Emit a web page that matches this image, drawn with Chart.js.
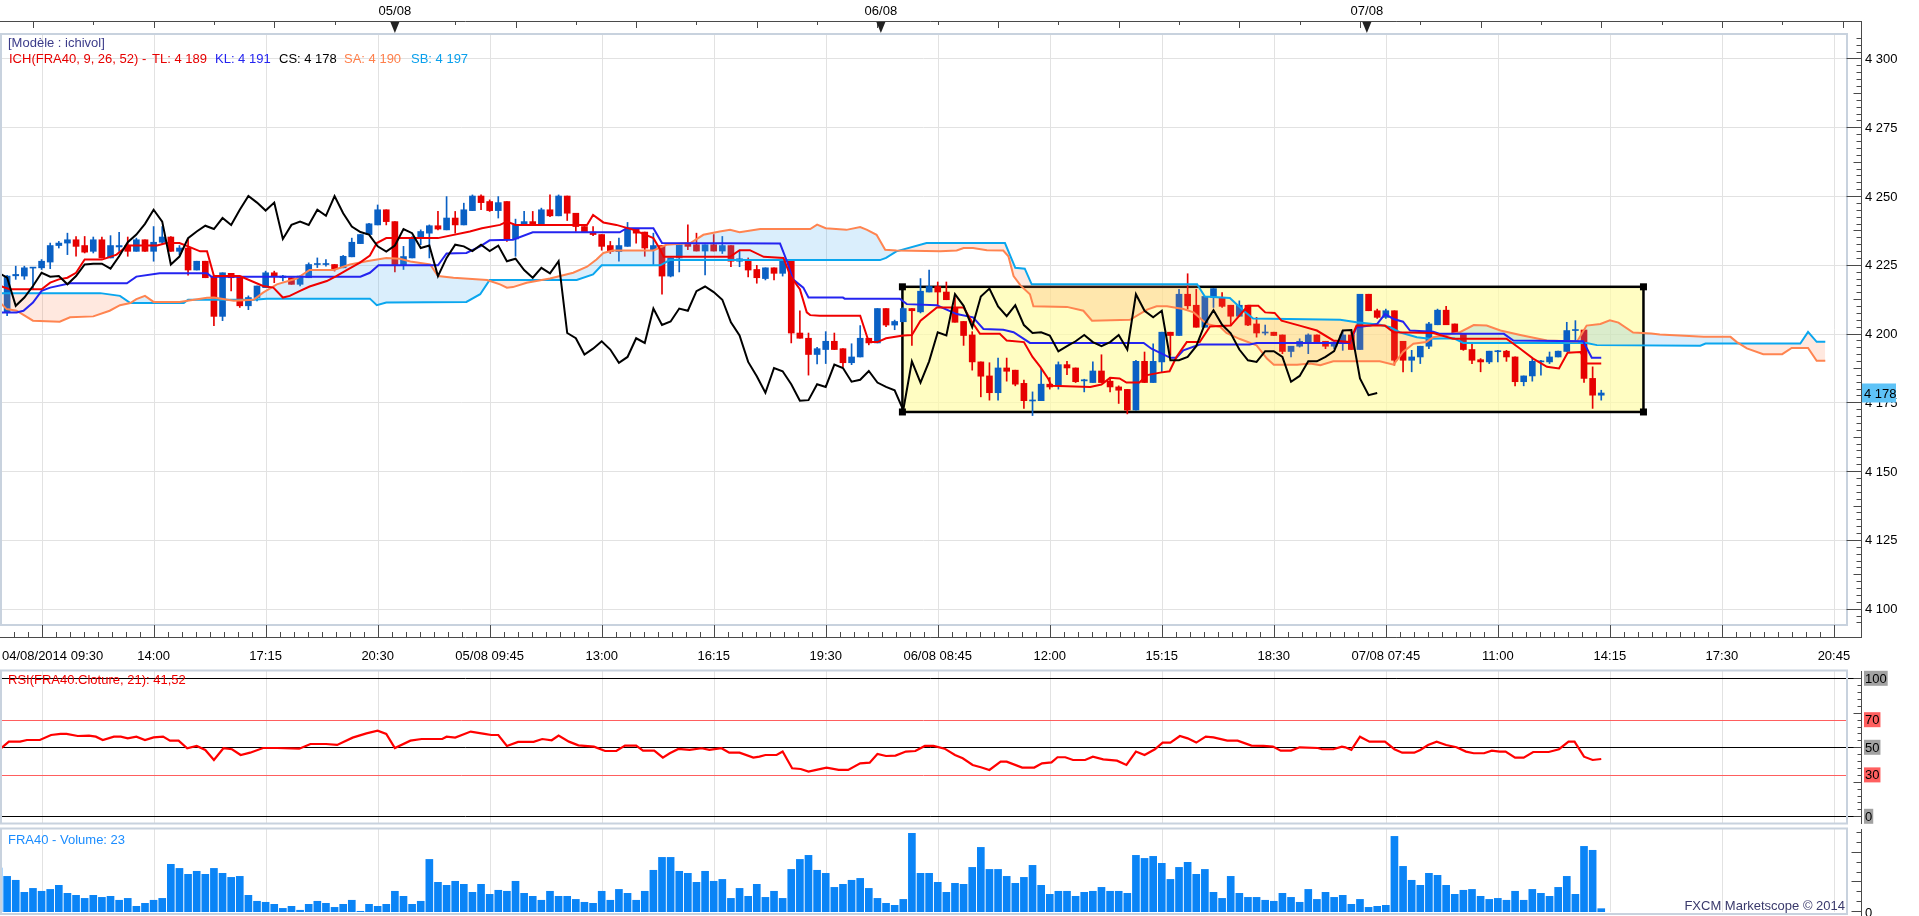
<!DOCTYPE html>
<html>
<head>
<meta charset="utf-8">
<title>FRA40 - ichivol</title>
<script src="https://cdn.jsdelivr.net/npm/chart.js@4.4.1/dist/chart.umd.min.js"></script>
<style>
  html, body { margin: 0; padding: 0; background: #fff; overflow: hidden; }
  #wrap { position: relative; width: 1919px; height: 916px; }
  canvas { position: absolute; left: 0; }
</style>
</head>
<body>
<div id="wrap">
  <canvas id="priceChart" width="1919" height="668" style="top:0px"></canvas>
  <canvas id="rsiChart" width="1919" height="158" style="top:668px"></canvas>
  <canvas id="volChart" width="1919" height="90" style="top:826px"></canvas>
</div>
<script>
// 15 min bars, bar 0 = 04/08/2014 09:30, last bar = 07/08 14:15
const opens = [4211.3,4207.7,4221,4220.9,4223.8,4223.9,4226,4232,4232.9,4234.1,4232,4229.9,4234.1,4227.5,4231.5,4232,4229.9,4234.1,4229.9,4233.2,
  4235.1,4229.9,4231.1,4223.1,4226.3,4220.7,4206.25,4221.9,4220.7,4210.1,4213.1,4216.7,4222.1,4220.3,4220.3,4217.9,4220.3,4225.1,4225.1,4225.1,
  4223.9,4227.9,4232.7,4236,4239.5,4245,4240.7,4225,4227.5,4234.7,4236.5,4239.2,4237.7,4242,4239.5,4244.7,4250,4248,4244.7,4248,
  4234.4,4239.5,4240.7,4239.5,4245,4242.8,4250,4243.75,4238.9,4236.9,4236,4232,4229.8,4231.7,4238,4236.9,4230.5,4232,4220.9,4227.5,
  4232.9,4232.3,4230,4232.3,4230,4232,4226.3,4226.3,4223.3,4220,4223.9,4221.9,4226.3,4200.2,4198.3,4192.4,4194.2,4197.2,4194.5,4189.4,
  4191.5,4198.3,4196.6,4209.1,4203.1,4204.3,4209.1,4207.9,4215.1,4217.1,4215.1,4209.5,4204.4,4199.5,4189.7,4184.6,4178.5,4187.5,4186.7,4181.9,
  4175.5,4175.6,4181.6,4181.3,4188.7,4187.5,4182.8,4182.2,4186.4,4182.7,4180.6,4179.7,4172.2,4189.9,4182.2,4189.7,4200.5,4199.3,4214.3,4210.3,
  4202.3,4213.1,4213.1,4210.3,4206.3,4210.3,4203.5,4200.2,4200.5,4199.5,4193.5,4195.4,4196.9,4199.5,4197.2,4195.4,4196.9,4199.5,4194.2,4214.3,
  4208.3,4205.9,4208.3,4197.2,4190.3,4191.5,4195.4,4203.2,4208.5,4203.5,4199.9,4194.2,4190.5,4189.7,4193.4,4193.6,4191.5,4182.5,4184.6,4189.7,
  4189.7,4191.5,4193.5,4201.1,4201.3,4183.7,4177.6];
const highs = [4212,4221.2,4224.5,4224.5,4224,4226.9,4232.9,4233.5,4236.5,4235.3,4235.3,4235.1,4235.1,4235.6,4236.8,4235.1,4234.7,4234.1,4238.9,4238.9,
  4235.3,4232,4234.4,4226.3,4226.3,4220.7,4222.1,4221.9,4220.7,4213.7,4217.3,4222.7,4222.7,4221.2,4220.3,4220.9,4225.7,4227.5,4226.9,4225.1,
  4228.4,4234.7,4236,4240.1,4246.75,4245,4240.7,4231.7,4235.3,4237.7,4239.5,4244.4,4249.8,4244.4,4247.4,4250.4,4250.4,4248.6,4249.8,4248,
  4241.6,4244.4,4244.4,4245.6,4250.4,4250.4,4250,4243.75,4238.9,4238.9,4236,4233.5,4234.7,4240.4,4238,4236.9,4236.5,4232,4227.5,4232.3,
  4239.5,4236.5,4232.3,4236,4235.3,4232,4230,4227.5,4224.8,4223.9,4223.9,4226.3,4226.3,4208.3,4200.2,4195,4200.7,4200.2,4194.5,4196.3,
  4202.9,4198.3,4209.1,4209.1,4204.9,4209.5,4209.1,4220,4223.1,4218.75,4218.75,4213.1,4204.4,4200.7,4189.7,4189.4,4191.1,4191.1,4186.7,4183.1,
  4178.8,4187.3,4184,4189.7,4189.9,4187.5,4183.4,4189.7,4192.3,4184,4181,4179.7,4190.3,4193.3,4196.3,4200.5,4200.5,4216.1,4221.75,4216.1,
  4213.5,4216.35,4214.9,4210.3,4211.9,4210.3,4205.9,4203.1,4200.5,4199.5,4195.4,4198.1,4199.9,4199.5,4197.2,4197.5,4201.1,4200.5,4214.3,4214.3,
  4208.9,4208.9,4208.3,4197.2,4193.9,4195.4,4204.1,4208.9,4209.9,4203.5,4199.9,4196.3,4190.9,4193.6,4193.9,4193.9,4191.5,4184.6,4190.9,4190.3,
  4193.3,4193.6,4204.1,4204.7,4201.3,4187.9,4179.4];
const lows = [4206.5,4206.5,4219.7,4219.7,4216.1,4223.3,4223.6,4231.1,4228.7,4228.1,4229.3,4229.3,4227.5,4227.5,4229.9,4228.1,4229.9,4229.9,4226.3,4232.3,
  4229.9,4228.7,4221.2,4223.1,4220.3,4202.9,4204.7,4215.5,4209.5,4208.7,4211.9,4216.7,4218.5,4219.1,4217.9,4217.3,4220.3,4224,4224.5,4222.7,
  4223.9,4227.9,4232.7,4236,4239.5,4239.5,4222.4,4223.3,4227.5,4232.3,4227.5,4237.7,4237.7,4236.5,4239.5,4244.7,4245,4244.4,4242,4233.5,
  4228.1,4239.5,4239.5,4239.5,4242.5,4242.8,4241.1,4237.1,4236.9,4235.6,4230.3,4229.1,4226.3,4231.7,4232.9,4228.1,4225.1,4214.3,4220.6,4222.4,
  4230.5,4230,4221.3,4230,4229.1,4224.3,4224.3,4220.6,4218.3,4219.5,4219.5,4220.9,4196.6,4198.3,4184.9,4189,4189.1,4194.2,4187.9,4188.7,
  4191.5,4195.9,4196.6,4202.5,4201.4,4204.3,4195.7,4207.5,4215.1,4210.3,4212.3,4204.1,4195.7,4186.7,4177,4175.8,4175.8,4182.7,4181,4172.8,
  4170.2,4175.6,4179.8,4179.8,4185.1,4182.2,4178.8,4182.2,4182.2,4178.8,4174.6,4170.8,4172.2,4182.2,4182.2,4185.8,4192.1,4199.3,4208.9,4202.3,
  4202.3,4209.5,4209.5,4202.9,4206.3,4202.9,4198.7,4199.5,4199.3,4192.7,4191.5,4195.1,4192.7,4196.9,4194.5,4194.5,4193.9,4194.2,4194.2,4208.3,
  4205.5,4205.5,4188.5,4186.1,4186.1,4189.1,4194.5,4203.2,4203.2,4200.1,4193.9,4189.1,4186.1,4189.1,4189.7,4189.9,4181,4181,4182.7,4184.9,
  4189.1,4191.5,4193.5,4197.1,4182.2,4172.8,4175.8];
const closes = [4207.7,4220.9,4221.5,4223.9,4223.9,4226.3,4232,4232.9,4234.1,4231.7,4229.6,4234.1,4227.5,4232,4232,4229.9,4234.1,4229.9,4233.2,4235.1,
  4229.9,4231.1,4223.1,4226.3,4220.3,4206.25,4222.1,4220.3,4210.1,4213.1,4217.3,4222.1,4220.7,4220.9,4217.9,4220.9,4225.1,4225.4,4225.4,4223.6,
  4228.1,4233.2,4236,4239.9,4245,4240.7,4225.1,4228,4234.7,4237.1,4239.2,4238,4242,4239.5,4245,4250,4247.6,4244.7,4247.6,4234.4,
  4239.5,4240.7,4239.5,4245,4242.8,4250,4243.75,4238.9,4236.9,4236,4231.7,4229.8,4232,4238,4236.5,4231.1,4232,4220.9,4227.5,4232.3,
  4231.7,4230,4232.3,4230,4232,4226.3,4227.2,4223.1,4220.3,4223.9,4221.9,4226.3,4200.2,4198.3,4192.4,4194.5,4197.2,4194.2,4189.4,4191.5,
  4198.3,4196.6,4209.1,4203.1,4204.4,4209.1,4208.3,4215.4,4217.1,4215.1,4212.3,4204.1,4199.3,4189.7,4184.5,4178.5,4187.5,4186.3,4181.6,4175.6,
  4175.8,4181.6,4180.6,4188.7,4187.5,4182.5,4183.2,4186.4,4182.2,4180.6,4179.4,4172.2,4189.9,4182.2,4189.9,4200.5,4199.3,4214.3,4210.1,4202.3,
  4213.5,4216.35,4209.9,4206.3,4210.3,4203.1,4200.2,4200.5,4199.3,4193.5,4195.4,4197.2,4199.5,4196.9,4195.4,4196.9,4199.5,4194.2,4214.3,4208.3,
  4205.9,4208.3,4190.3,4190.3,4191.5,4195.4,4203.5,4208.5,4203.2,4200.1,4194.2,4190.3,4189.7,4193.6,4193.6,4191.5,4182.5,4184.6,4189.9,4189.9,
  4191.5,4193.6,4201.1,4201.3,4183.7,4177.6,4178.4];
const volumes = [304,246,219,136,163,143,156,184,129,115,94,115,101,108,81,94,39,60,81,94,
  329,301,260,281,260,301,267,239,246,115,74,67,53,25,39,12,53,74,60,32,
  53,81,5,53,39,53,143,108,53,74,363,205,184,212,191,136,191,122,150,143,
  212,129,108,81,143,108,108,87,67,60,143,81,156,129,81,143,288,377,377,281,
  267,205,281,212,225,94,163,108,191,101,143,94,294,363,391,288,267,170,191,219,
  232,163,94,60,46,87,543,267,267,205,136,198,191,308,446,294,294,246,198,239,
  322,184,122,143,143,108,136,143,170,143,143,129,391,370,384,336,225,308,343,260,
  294,136,94,246,129,101,101,81,74,129,101,67,156,87,136,101,115,53,87,32,
  39,46,522,315,219,184,267,253,184,122,150,156,108,87,94,81,143,81,156,129,
  108,170,246,122,453,426,23];

// ichimoku lines as [bar, price] points (senkou spans run 26 bars ahead)
const tenkan = [[0.2,4217.3],[1.3,4216.1],[5,4216.1],[6,4218.5],[7,4219.7],[8,4220.3],[9,4222.1],[10,4226.9],[12,4226.9],[13.7,4228.7],
  [15,4232],[18.4,4232],[19.5,4232.9],[21,4232.9],[22,4231.7],[23.4,4229.9],[24.2,4229.9],[25,4220.9],[28,4220.9],[30.7,4217.3],
  [31.9,4216.7],[33,4213.1],[33.8,4213.7],[35,4215.5],[36.1,4217.1],[38.1,4219.1],[39.2,4220.9],[40.4,4223.1],[41.9,4225.7],[43.1,4228.4],
  [43.9,4232.9],[45,4234.7],[51,4234.7],[54.7,4237.1],[56.1,4238.3],[58.2,4239.5],[59,4240.7],[60,4239.5],[68.3,4239.5],[69,4243.1],
  [70.2,4240.4],[71.7,4239.5],[73.7,4237.7],[76,4234.7],[76.8,4230.5],[77.2,4227.9],[84.9,4227.9],[86,4230.3],[87.2,4230.3],[88.8,4227.9],
  [91.1,4227.5],[91.9,4220.9],[93,4216.1],[93.8,4207.7],[94.2,4206.7],[95.3,4206.5],[100,4206.5],[101,4196.9],[102,4196.9],[103,4198.3],
  [105,4199.3],[106,4199.5],[107,4204.7],[108.9,4209.5],[112,4209.5],[113,4204.1],[113.9,4199.9],[116.2,4199.9],[117,4197.5],[119,4196.9],
  [120,4191.5],[120.9,4187.9],[121.8,4183.7],[122.2,4181],[126.7,4180.6],[128,4181.5],[129,4183.9],[130.1,4183.7],[130.9,4182.2],[132.4,4182.2],
  [133.3,4184.9],[134.8,4185.8],[135.9,4186.3],[136.7,4191.5],[137.9,4196.9],[139.4,4196.9],[140.6,4202.6],[143,4202.9],[145,4210.1],[146.2,4210.1],
  [147,4207.7],[148.1,4207.5],[148.9,4204.7],[151,4202.9],[153,4201.1],[154.9,4197.5],[156.8,4196.9],[157.6,4202.9],[160.9,4202.9],[161.9,4200.5],
  [166.5,4200.2],[168.8,4198.1],[175,4198.1],[176.6,4194.5],[178.1,4190.9],[179.7,4187.9],[181.1,4187.3],[182.1,4193],[183.6,4193.3],[184.3,4189.1],
  [186,4189.1]];
const kijun = [[0.17,4207.7],[2.1,4207.7],[2.9,4208.3],[4,4211.3],[5,4215.5],[6,4216.7],[8.3,4218.3],[14.9,4218.3],[16,4220.7],[18.7,4221.9],
  [24.2,4221.9],[24.7,4220.7],[42,4220.7],[43.1,4222.1],[44.1,4224.8],[51,4224.8],[52,4229.1],[54.3,4229.3],[55.9,4231.7],[57,4233.9],
  [59.7,4234.1],[62,4236.8],[72.1,4236.8],[72.9,4238.3],[76,4238.3],[77,4232.9],[90.7,4232.7],[91.5,4226.3],[92.2,4219.7],[93.4,4216.7],
  [94,4213.1],[98,4213.1],[98.2,4212.7],[104.6,4212.7],[105.4,4210.7],[108.9,4210.3],[111.2,4207.1],[113.1,4205.9],[114.3,4201.7],[116.6,4201.4],
  [117.8,4200.5],[119.7,4196.6],[132.9,4196.6],[133.8,4194.5],[136,4191.2],[136.7,4191.2],[137.5,4193.9],[139.4,4196],[145.2,4196],[146,4196.6],
  [156.8,4196.6],[157.6,4202.3],[159.2,4202.9],[160,4203.5],[160.9,4207.1],[161.9,4205.3],[163,4204.3],[163.8,4201.1],[166.5,4200.7],[167.3,4199.9],
  [174.7,4199.9],[175.8,4197.5],[183.9,4197.2],[184.9,4191.2],[186,4191.2]];
const senkouA = [[0.17,4211.3],[0.95,4208.9],[2.1,4208.3],[4,4204.7],[7.1,4204.3],[8.3,4205.9],[11,4206.25],[12.9,4208.3],[14.1,4210.3],[15.3,4211.1],
  [16,4212.5],[17,4213.7],[18,4211.5],[21,4211.5],[24.2,4213],[25,4213.1],[27.3,4211.9],[29.6,4212.3],[30.7,4214.9],[32.3,4217.9],
  [34.6,4220],[36.1,4223.1],[38.9,4223.1],[40.8,4225.1],[42.7,4226.3],[45,4227.5],[46.6,4227.2],[47.8,4226.2],[50.1,4225.1],[51,4220.9],
  [52.8,4220.3],[56.7,4219.5],[58.2,4217.9],[59,4216.7],[59.7,4216.9],[61.3,4218.5],[64,4220],[66.7,4222.1],[68.3,4224.3],[69.4,4226.9],
  [70.2,4229.3],[71.3,4230.2],[76,4230.2],[77.5,4232.3],[80.3,4232.9],[81.8,4235.9],[83.7,4237.1],[84.9,4237.7],[86,4236.8],[88.4,4238],
  [94.2,4238],[95,4239.6],[96,4238.3],[98.4,4237.7],[100,4238.7],[100.8,4237.7],[101.9,4235.9],[102.9,4230.5],[104.2,4230.2],[109.3,4229.9],
  [111.2,4230.2],[112,4231.1],[113.1,4231.1],[114.7,4230.3],[116.6,4230.2],[117.2,4228.1],[117.8,4220.9],[118.6,4217.5],[119.7,4214.3],[120.1,4209.9],
  [124,4209.7],[125.9,4208.3],[126.9,4204.7],[131.3,4205],[133.3,4208.7],[134.4,4209.9],[135.6,4209.9],[137.5,4208.9],[138.7,4207.7],[140.2,4203.5],
  [141.8,4202.4],[142.5,4200.2],[144,4198.1],[146,4195.7],[147.2,4190.9],[148,4188.7],[150.7,4188.7],[152.2,4189.1],[153.4,4188.5],[154.9,4189.9],
  [160.3,4189.9],[161.9,4188.7],[163,4193.3],[164.2,4196.3],[165.7,4196.9],[166.5,4198.7],[168,4199.5],[169.6,4200.5],[171.2,4203.1],[172.7,4202.9],
  [174.3,4201.1],[176.6,4199.5],[179.7,4197.5],[183.2,4197.1],[184.3,4202.9],[185.9,4203.5],[187,4204.8],[188,4204],[189.7,4200.4],[191.8,4200],
  [192.8,4199.7],[197.9,4198.8],[201,4198.8],[201.7,4197],[202.9,4194.6],[204.8,4192.5],[207,4192.5],[208.1,4194.8],[210,4194.8],[211,4190.1],
  [212,4190.1]];
const senkouB = [[0.17,4214.7],[11.8,4214.7],[14.1,4213.7],[15.3,4211.1],[21.5,4211.1],[22,4212.3],[29.6,4212.3],[31.1,4212.7],[43.1,4212.7],[43.9,4210.3],
  [45,4211.3],[54.3,4211.5],[55.9,4214.3],[57,4219.5],[67.1,4219.5],[69,4221.5],[70,4224.8],[76.8,4224.8],[77.9,4226.7],[102.3,4226.7],
  [103,4227.5],[104.2,4229.9],[107.7,4232.9],[116.8,4232.9],[118,4223.9],[119.1,4223.6],[119.9,4217.9],[139.1,4217.9],[140,4213.5],[142.9,4212.9],
  [144.5,4208.3],[145.6,4205.5],[155.7,4205],[157.6,4204.1],[160.3,4203.2],[161.5,4202.3],[162.6,4200.5],[164.6,4198.7],[166.1,4198.1],[168.9,4198.3],
  [170,4196.6],[184.3,4196.6],[185.5,4195.8],[197.5,4195.6],[198.1,4196.4],[209.1,4196.4],[210,4200.6],[211,4197],[212,4197]];

// RSI(21) as [bar, value] points
const rsi = [[0.17,48.6],[1.2,54.1],[2.5,54.1],[3.3,55.3],[4.8,55.3],[6.1,58.9],[7.2,59.7],[7.9,59.7],[9.2,58.2],[10.5,58.5],
  [11.3,57.7],[12.1,55.3],[13.4,57.7],[14.2,57.7],[15,56.5],[16,57.7],[17,55.3],[18,57.2],[19.1,57.7],[19.9,54.8],
  [20.9,54.8],[21.9,49.3],[23,51],[24,48.1],[25,40.8],[26.1,49.3],[27.1,48.6],[28.1,44.4],[29.2,46.1],[30.7,49.5],
  [32.3,49.5],[34.9,49],[36.2,52.4],[38,52.4],[39.3,51.7],[41.1,57],[42.7,60.1],[44,62.1],[45,59.7],[46,49.5],
  [47.8,54.8],[49.1,56],[51.5,56],[52,57.7],[53,57],[54.8,61.4],[56.4,59.7],[57.2,58.9],[58,58.9],[59,51],
  [60.3,53.9],[62.1,53.9],[63.1,56],[64.2,55.1],[65,58.5],[66.2,54.1],[67.3,51.4],[69.1,50.5],[70.4,47.3],[71.7,47.3],
  [72.7,51.2],[74,51.2],[74.8,47.6],[76.1,47.6],[77.1,42.5],[77.9,45.7],[78.9,48.8],[80.2,48.1],[81.6,49.3],[82.5,48.1],
  [83.9,49.3],[84.8,46.1],[86,46.1],[87.6,42.5],[88.3,43.2],[89,44.4],[90.3,44.4],[91,46.9],[92.1,34.8],[93.1,34.3],
  [94,32.4],[94.9,33.6],[96.1,35.3],[97.5,33.6],[98.6,33.6],[100,38.4],[101.1,38.9],[102,45.2],[103,43.7],[104.1,44],
  [105.3,46.9],[106.4,47.3],[107.5,51],[108.5,51],[109.8,49],[111,44.4],[111.9,42],[113.05,37.2],[114,35.5],[115,33.6],
  [116.3,39.6],[117,39.6],[118.8,35.3],[120.2,35.3],[121.1,38.4],[122.2,39.1],[122.9,42.8],[123.8,42.8],[124.7,40.8],[126.1,40.8],
  [127,43.2],[128.2,41.3],[129.8,40.3],[130.9,37.2],[132,46.9],[133,44.4],[134.2,48.6],[135.1,53.4],[136,53.4],[137.1,58.2],
  [138,56.5],[139,53.4],[140.1,57.7],[141,57.2],[142.6,54.8],[143.8,54.8],[145.4,51.2],[146.8,51],[147.9,50.5],[148.8,47.6],
  [150,47.6],[151,50],[153.1,49.5],[153.6,48.6],[154.9,48.6],[155.9,50.5],[156.3,50],[157,48.1],[158,57.7],[159.1,54.1],
  [160.9,54.1],[162,48.6],[162.9,46.1],[164.3,46.1],[165,48.1],[165.9,51.7],[166.9,54.1],[168,51.7],[169.2,50],[170.3,46.9],
  [171.2,45.7],[172.4,45.7],[173.3,47.6],[174.2,46.9],[174.9,46.9],[176,42.5],[177,42.5],[178.1,46.6],[179.9,46.6],[181.1,48.6],
  [182.2,54.1],[182.9,54.1],[184,43.2],[185,40.8],[186,41.52]];
const rsiLevels = [100, 70, 50, 30, 0];

// time axis: first label sits on the left edge, then one label every 13 bars from bar 18
const firstTimeLabel = '04/08/2014 09:30';
const timeLabels = ['14:00','17:15','20:30','05/08 09:45','13:00','16:15','19:30','06/08 08:45','12:00','15:15','18:30',
  '07/08 07:45','11:00','14:15','17:30','20:45'];
const dayLabels = ['05/08', '06/08', '07/08'];
const dayStartBars = [46, 102.4, 158.8];
const priceTicks = [4100, 4125, 4150, 4175, 4200, 4225, 4250, 4275, 4300];

// rectangle drawn on the chart: [bar, price] corners
const boxCorners = [[104.9, 4217], [190.9, 4171.5]];

const FONT = '13px "Liberation Sans", Arial, sans-serif';
const UP = '#0a60c4', DOWN = '#e60000';
const GRID = '#e2e2e2', FRAME = '#c8d2de', AXIS = '#4a4a4a';
const X_MIN = 0.174, X_MAX = 214.52;
const LABEL_STEP = 13, FIRST_GRID_BAR = 5, FIRST_LABEL_BAR = 18;
const AXIS_X = 1861.5, PLOT_RIGHT = 1847;

const fmt = n => String(Math.round(n)).replace(/\B(?=(\d{3})+(?!\d))/g, ' ');
const toPts = arr => arr.map(p => ({x: p[0], y: p[1]}));
const last = arr => arr[arr.length - 1];
const candleColor = c => closes[c.dataIndex] >= opens[c.dataIndex] ? UP : DOWN;

function line(ctx, x1, y1, x2, y2) {
  ctx.beginPath(); ctx.moveTo(x1, y1); ctx.lineTo(x2, y2); ctx.stroke();
}

function vGrid(chart) {
  const {ctx, chartArea: a, scales: {x}} = chart;
  ctx.save();
  ctx.strokeStyle = GRID; ctx.lineWidth = 1;
  for (let b = FIRST_GRID_BAR; b <= X_MAX; b += LABEL_STEP) {
    const px = Math.round(x.getPixelForValue(b)) + 0.5;
    line(ctx, px, a.top, px, a.bottom);
  }
  ctx.restore();
}

function frame(chart, top, bottom) {
  const ctx = chart.ctx;
  ctx.save();
  ctx.strokeStyle = FRAME; ctx.lineWidth = 2;
  ctx.strokeRect(1, top, PLOT_RIGHT - 1, bottom - top);
  ctx.restore();
}

function xScale() {
  return {type: 'linear', display: false, min: X_MIN, max: X_MAX, offset: false};
}

const baseOptions = {
  responsive: false, animation: false, devicePixelRatio: 1, events: [],
  plugins: {legend: {display: false}, tooltip: {enabled: false}}
};

// ---------- price panel ----------
const pricePanel = {
  id: 'pricePanel',
  beforeDatasetsDraw(chart) {
    const {ctx, chartArea: a, scales: {x, y}} = chart;
    vGrid(chart);
    ctx.save();
    ctx.strokeStyle = GRID; ctx.lineWidth = 1;
    priceTicks.forEach(v => {
      const py = Math.round(y.getPixelForValue(v)) + 0.5;
      line(ctx, a.left, py, a.right, py);
    });
    const x1 = x.getPixelForValue(boxCorners[0][0]), y1 = y.getPixelForValue(boxCorners[0][1]);
    const x2 = x.getPixelForValue(boxCorners[1][0]), y2 = y.getPixelForValue(boxCorners[1][1]);
    ctx.fillStyle = 'rgba(255,252,165,0.68)';
    ctx.fillRect(x1, y1, x2 - x1, y2 - y1);
    ctx.strokeStyle = '#000'; ctx.lineWidth = 2.5;
    ctx.strokeRect(x1, y1, x2 - x1, y2 - y1);
    ctx.fillStyle = '#000';
    [[x1, y1], [x2, y1], [x1, y2], [x2, y2]].forEach(p => ctx.fillRect(p[0] - 3.5, p[1] - 3.5, 7, 7));
    ctx.restore();
  },
  afterDatasetsDraw(chart) {
    frame(chart, 34, 625);
  },
  afterDraw(chart) {
    const {ctx, scales: {x, y}} = chart;
    ctx.save();
    ctx.strokeStyle = AXIS; ctx.lineWidth = 1;
    // top date axis
    line(ctx, 0, 21.5, AXIS_X, 21.5);
    for (let b = 4; b <= X_MAX; b += 7) {
      const px = Math.round(x.getPixelForValue(b)) + 0.5;
      line(ctx, px, 21.5, px, (b - 4) % 14 === 0 ? 28 : 25);
    }
    ctx.font = FONT; ctx.textBaseline = 'middle'; ctx.textAlign = 'center';
    dayStartBars.forEach((b, k) => {
      const px = x.getPixelForValue(b);
      ctx.fillStyle = '#222';
      ctx.beginPath(); ctx.moveTo(px - 4.5, 22); ctx.lineTo(px + 4.5, 22); ctx.lineTo(px, 33); ctx.closePath(); ctx.fill();
      ctx.fillStyle = '#000';
      ctx.fillText(dayLabels[k], px, 11);
    });
    // price axis
    line(ctx, AXIS_X, 21, AXIS_X, 638);
    for (let v = 4095; v <= 4307.5; v += 2.5) {
      const py = Math.round(y.getPixelForValue(v)) + 0.5;
      const len = v % 25 === 0 ? 15 : (v % 12.5 === 0 ? 8 : 5);
      line(ctx, AXIS_X - len, py, AXIS_X, py);
    }
    ctx.textAlign = 'left'; ctx.fillStyle = '#000';
    priceTicks.forEach(v => ctx.fillText(fmt(v), 1865, y.getPixelForValue(v) + 1));
    const lastClose = last(closes);
    const ly = y.getPixelForValue(lastClose);
    ctx.fillStyle = '#5ec3f7';
    ctx.fillRect(1862, ly - 9.5, 34, 19);
    ctx.fillStyle = '#000';
    ctx.fillText(fmt(lastClose), 1864, ly + 1);
    // time axis
    line(ctx, 0, 637.5, AXIS_X, 637.5);
    for (let j = -3; ; j++) {
      const b = FIRST_GRID_BAR + j * LABEL_STEP / 8;
      if (b > X_MAX) break;
      if (b < X_MIN) continue;
      const px = Math.round(x.getPixelForValue(b)) + 0.5;
      line(ctx, px, j % 8 === 0 ? 625 : 632, px, 637.5);
    }
    ctx.fillText(firstTimeLabel, 2, 656);
    ctx.textAlign = 'center';
    timeLabels.forEach((t, k) => ctx.fillText(t, x.getPixelForValue(FIRST_LABEL_BAR + k * LABEL_STEP), 656));
    // legend
    ctx.textAlign = 'left';
    ctx.fillStyle = '#3c3c8a';
    ctx.fillText('[Modèle : ichivol]', 8, 43);
    const parts = [
      ['ICH(FRA40, 9, 26, 52) -', '#e60000', 9, 140],
      ['TL: ' + fmt(last(tenkan)[1]), '#e60000', 152, 60],
      ['KL: ' + fmt(last(kijun)[1]), '#2424f0', 215, 60],
      ['CS: ' + fmt(last(closes)), '#000000', 279, 60],
      ['SA: ' + fmt(last(senkouA)[1]), '#ff7f4a', 344, 60],
      ['SB: ' + fmt(last(senkouB)[1]), '#0aa0ec', 411, 60]
    ];
    parts.forEach(p => { ctx.fillStyle = p[1]; ctx.fillText(p[0], p[2], 59, p[3]); });
    ctx.restore();
  }
};

const lineStyle = {type: 'line', pointRadius: 0, borderWidth: 2, tension: 0, spanGaps: true};

new Chart(document.getElementById('priceChart'), {
  type: 'bar',
  data: {
    datasets: [
      {type: 'bar', label: 'wicks', data: opens.map((o, i) => ({x: i, y: [lows[i], highs[i]]})),
        backgroundColor: candleColor, barThickness: 1, grouped: false, order: 9},
      {type: 'bar', label: 'bodies', data: opens.map((o, i) => ({x: i, y: [o, closes[i]]})),
        backgroundColor: candleColor, barThickness: 6, minBarLength: 1, grouped: false, order: 8},
      {...lineStyle, label: 'SB', data: toPts(senkouB), borderColor: '#0aa6ee', order: 7,
        fill: {target: 3, above: 'rgba(255,130,80,0.18)', below: 'rgba(80,175,240,0.21)'}},
      {...lineStyle, label: 'SA', data: toPts(senkouA), borderColor: '#ff8450', order: 6},
      {...lineStyle, label: 'KL', data: toPts(kijun), borderColor: '#2424f0', order: 5},
      {...lineStyle, label: 'TL', data: toPts(tenkan), borderColor: '#f00000', order: 4},
      // chikou span: the closes drawn 26 bars back
      {...lineStyle, label: 'CS', data: closes.map((c, i) => ({x: i - 26, y: c})), borderColor: '#000000', order: 3}
    ]
  },
  options: {
    ...baseOptions,
    layout: {padding: {left: 0, right: 1919 - PLOT_RIGHT, top: 34, bottom: 668 - 625}},
    scales: {x: xScale(), y: {type: 'linear', display: false, min: 4094.06, max: 4308.9}}
  },
  plugins: [pricePanel]
});

// ---------- RSI panel ----------
const rsiPanel = {
  id: 'rsiPanel',
  beforeDatasetsDraw(chart) {
    const {ctx, chartArea: a, scales: {y}} = chart;
    vGrid(chart);
    ctx.save();
    ctx.lineWidth = 1;
    rsiLevels.forEach(v => {
      const red = v === 70 || v === 30;
      ctx.strokeStyle = red ? '#ff5e5e' : '#000';
      const py = Math.round(y.getPixelForValue(v)) + 0.5;
      // black levels run on to the axis line
      line(ctx, a.left, py, red ? a.right : AXIS_X, py);
    });
    ctx.restore();
  },
  afterDatasetsDraw(chart) {
    frame(chart, 2.5, 155.5);
  },
  afterDraw(chart) {
    const {ctx, scales: {y}} = chart;
    ctx.save();
    ctx.strokeStyle = AXIS; ctx.lineWidth = 1;
    line(ctx, AXIS_X, 3, AXIS_X, 156);
    for (let v = 0; v <= 100; v += 5) {
      const py = Math.round(y.getPixelForValue(v)) + 0.5;
      line(ctx, AXIS_X - (v % 25 === 0 ? 8 : 4), py, AXIS_X, py);
    }
    ctx.font = FONT; ctx.textBaseline = 'middle'; ctx.textAlign = 'left';
    rsiLevels.forEach(v => {
      const py = y.getPixelForValue(v);
      const t = String(v), w = ctx.measureText(t).width;
      ctx.fillStyle = (v === 70 || v === 30) ? '#ff5f5f' : '#a2a2a2';
      ctx.fillRect(1864, py - 7.5, w + 2, 15);
      ctx.fillStyle = '#000';
      ctx.fillText(t, 1865, py + 1);
    });
    ctx.fillStyle = '#f00000';
    ctx.fillText('RSI(FRA40.Cloture, 21): ' + last(rsi)[1].toFixed(2).replace('.', ','), 8, 12);
    ctx.restore();
  }
};

new Chart(document.getElementById('rsiChart'), {
  type: 'line',
  data: {datasets: [{...lineStyle, label: 'RSI', data: toPts(rsi), borderColor: '#ff0000', borderWidth: 2.2}]},
  options: {
    ...baseOptions,
    layout: {padding: {left: 0, right: 1919 - PLOT_RIGHT, top: 3, bottom: 3}},
    scales: {x: xScale(), y: {type: 'linear', display: false, min: -4.86, max: 105.29}}
  },
  plugins: [rsiPanel]
});

// ---------- volume panel ----------
const volPanel = {
  id: 'volPanel',
  beforeDatasetsDraw(chart) { vGrid(chart); },
  afterDatasetsDraw(chart) { frame(chart, 2.5, 88); },
  afterDraw(chart) {
    const {ctx, scales: {y}} = chart;
    ctx.save();
    ctx.strokeStyle = AXIS; ctx.lineWidth = 1;
    line(ctx, AXIS_X, 3, AXIS_X, 90);
    for (let v = 0, k = 0; v <= 573; v += 68, k++) {
      const py = Math.round(y.getPixelForValue(v)) - 0.5;
      line(ctx, AXIS_X - (k % 3 === 0 ? 10 : 5), py, AXIS_X, py);
    }
    ctx.font = FONT; ctx.textBaseline = 'middle'; ctx.textAlign = 'left';
    ctx.fillStyle = '#000';
    ctx.fillText('0', 1865, 87);
    ctx.fillStyle = '#1a8cff';
    ctx.fillText('FRA40 - Volume: ' + last(volumes), 8, 14);
    ctx.textAlign = 'right';
    ctx.fillStyle = '#3a3a6c';
    ctx.fillText('FXCM Marketscope \u00a9 2014', 1845, 80);
    ctx.restore();
  }
};

new Chart(document.getElementById('volChart'), {
  type: 'bar',
  data: {datasets: [{label: 'Volume', data: volumes.map((v, i) => ({x: i, y: v})),
    backgroundColor: '#0a84f6', barThickness: 7}]},
  options: {
    ...baseOptions,
    layout: {padding: {left: 0, right: 1919 - PLOT_RIGHT, top: 3, bottom: 4}},
    scales: {x: xScale(), y: {type: 'linear', display: false, min: 0, max: 573}}
  },
  plugins: [volPanel]
});
</script>
</body>
</html>
